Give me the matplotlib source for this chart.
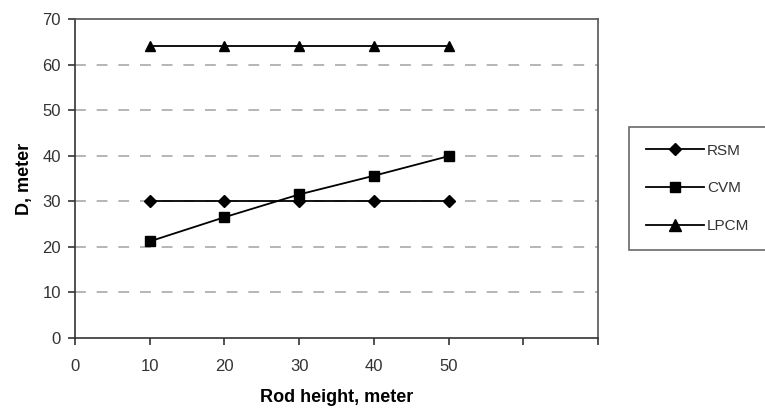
import matplotlib
matplotlib.use("Agg")
import matplotlib.pyplot as plt

plt.rcParams['font.family'] = ['Liberation Sans', 'DejaVu Sans']

rod_height = [10, 20, 30, 40, 50]
rsm = [30, 30, 30, 30, 30]
cvm = [21.2, 26.5, 31.5, 35.6, 39.9]
lpcm = [64, 64, 64, 64, 64]
x_ticks = [0, 10, 20, 30, 40, 50, 60, 70]
x_tick_labels = ['0', '10', '20', '30', '40', '50', '', '']
y_ticks = [0, 10, 20, 30, 40, 50, 60, 70]

fig = plt.figure(figsize=(7.65, 4.09), dpi=100)
ax = fig.add_axes([75/765, 1 - 338/409, (598-75)/765, (338-19)/409])

lw = 1.3
ax.plot(rod_height, rsm, color='black', lw=lw, marker='D', ms=6, label='RSM', zorder=3)
ax.plot(rod_height, cvm, color='black', lw=lw, marker='s', ms=6.5, label='CVM', zorder=3)
ax.plot(rod_height, lpcm, color='black', lw=lw, marker='^', ms=7.5, label='LPCM', zorder=3)

ax.set_xlim(0, 70)
ax.set_ylim(0, 70)
ax.set_xticks(x_ticks)
ax.set_xticklabels(x_tick_labels)
ax.set_yticks(y_ticks)
for y in y_ticks[1:-1]:
    ax.axhline(y, color='#b0b0b0', lw=1.3, ls=(0, (6, 6)), zorder=1)

for s in ax.spines.values():
    s.set_color('#555555')
    s.set_linewidth(1.2)
ax.spines['left'].set_color('#333333')
ax.spines['bottom'].set_color('#333333')
ax.tick_params(axis='both', direction='out', length=5, width=1.2, color='#333333',
               labelsize=12, labelcolor='#333333', pad=5)
ax.tick_params(axis='x', pad=10)

ax.set_xlabel('Rod height, meter', fontsize=13, fontweight='bold', labelpad=11)
ax.set_ylabel('D, meter', fontsize=13, fontweight='bold', labelpad=7)

leg = ax.legend(loc='upper right', bbox_to_anchor=(766/765, 1 - 127/409),
                bbox_transform=fig.transFigure, frameon=True, fancybox=False,
                edgecolor='#444444', fontsize=11, handlelength=3.8,
                labelspacing=1.55, borderpad=1.1, handletextpad=0.2,
                borderaxespad=0, markerscale=1.1)
leg.get_frame().set_linewidth(1.2)
for t in leg.get_texts():
    t.set_color('#333333')

fig.savefig('out.png', dpi=100)
